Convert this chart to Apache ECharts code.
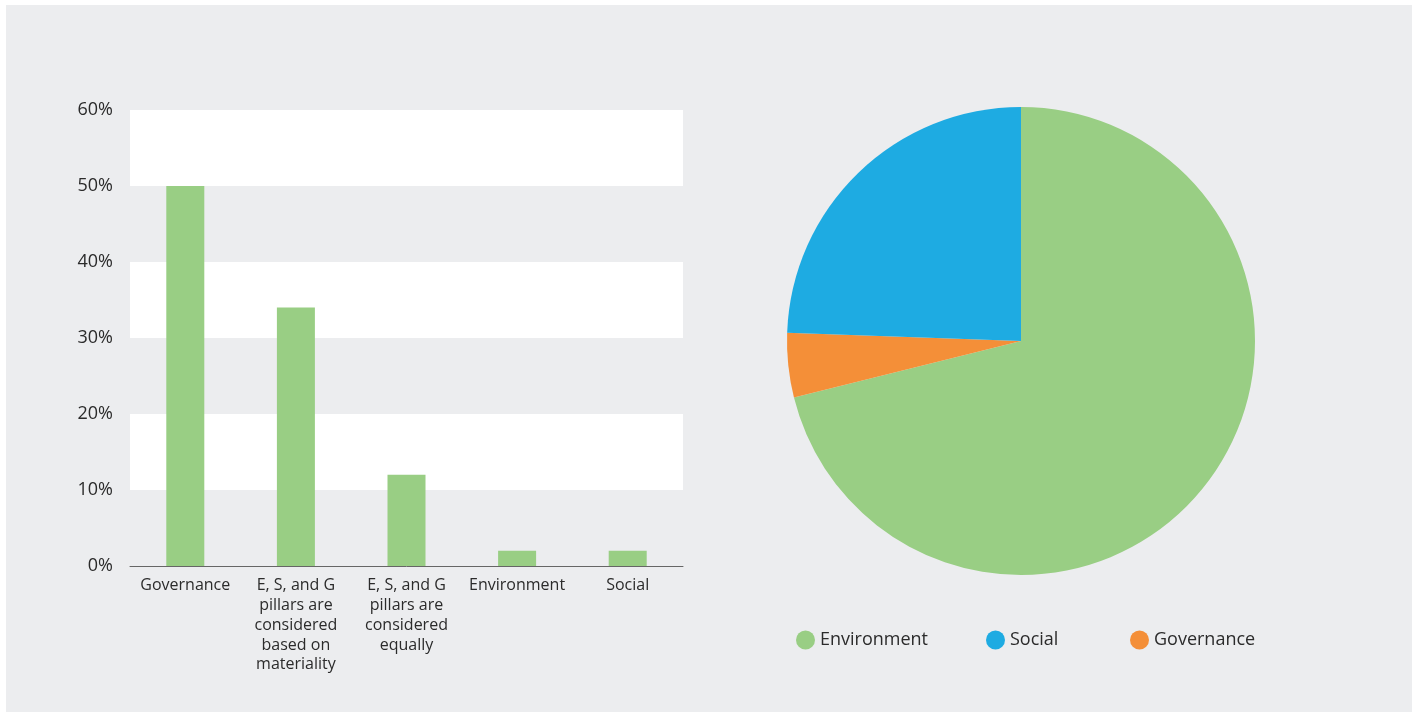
<!DOCTYPE html>
<html>
<head>
<meta charset="utf-8">
<script src="https://cdn.jsdelivr.net/npm/echarts@6/dist/echarts.min.js"></script>
<style>
html,body{margin:0;padding:0;background:#fff;}
#bg{position:absolute;left:6px;top:5px;width:1406px;height:707px;background:#ECEDEF;}
#c{position:absolute;left:0;top:0;width:1418px;height:715px;}
</style>
</head>
<body>
<div id="bg"></div>
<div id="c"></div>
<script>
const barCategories = ['Governance', 'E, S, and G\npillars are\nconsidered\nbased on\nmateriality', 'E, S, and G\npillars are\nconsidered\nequally', 'Environment', 'Social'];
const barValues = [50, 34, 12, 2, 2];
const yTicks = {min: 0, max: 60, interval: 10};
const pieNames = ['Environment', 'Governance', 'Social'];
const pieValues = [32, 2, 11];
const pieColors = {Environment: '#99CE84', Social: '#1EABE2', Governance: '#F48F38'};
const legendOrder = ['Environment', 'Social', 'Governance'];

const font = '"Open Sans", Lato, sans-serif';
const textColor = '#2b2b2b';
const chart = echarts.init(document.getElementById('c'), null, {renderer: 'canvas'});
const legendLefts = [796, 986, 1130];
chart.setOption({
  backgroundColor: 'transparent',
  textStyle: {fontFamily: font},
  grid: {left: 130, right: 735, top: 110, bottom: 149, containLabel: false},
  xAxis: {
    type: 'category',
    data: barCategories,
    axisLine: {show: true, lineStyle: {color: '#666', width: 1}},
    axisTick: {show: false},
    axisLabel: {color: textColor, fontSize: 16, lineHeight: 19.7, margin: 10, interval: 0, fontFamily: font}
  },
  yAxis: {
    type: 'value',
    min: yTicks.min, max: yTicks.max, interval: yTicks.interval,
    axisLine: {show: false},
    axisTick: {show: false},
    splitLine: {show: false},
    splitArea: {show: true, areaStyle: {color: ['rgba(0,0,0,0)', '#ffffff']}},
    axisLabel: {color: textColor, fontSize: 18, margin: 17, formatter: '{value}%', fontFamily: font}
  },
  legend: legendOrder.map((n, i) => ({
    data: [n],
    left: legendLefts[i],
    top: 630.5,
    padding: 0,
    icon: 'circle',
    itemWidth: 19, itemHeight: 19, itemGap: 0,
    textStyle: {color: textColor, fontSize: 18, fontFamily: font},
    selectedMode: false
  })),
  series: [
    {
      type: 'bar',
      data: barValues,
      barWidth: 38,
      itemStyle: {color: '#99CE84'},
      silent: true
    },
    {
      type: 'pie',
      center: [1021, 341],
      radius: [0, 234],
      startAngle: 90,
      clockwise: true,
      label: {show: false},
      labelLine: {show: false},
      silent: true,
      itemStyle: {borderWidth: 0},
      data: pieNames.map((n, i) => ({name: n, value: pieValues[i], itemStyle: {color: pieColors[n]}}))
    }
  ]
});
</script>
</body>
</html>
